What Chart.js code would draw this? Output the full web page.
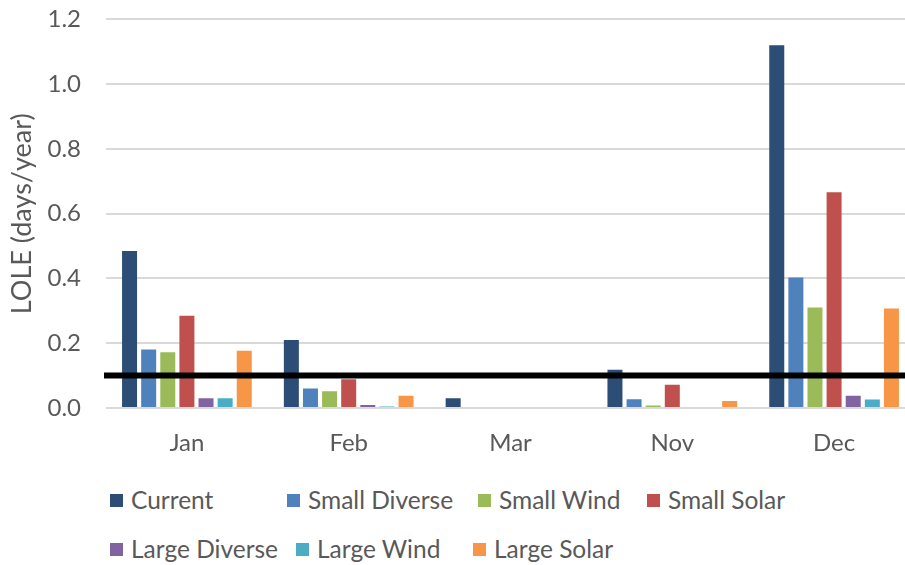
<!DOCTYPE html>
<html>
<head>
<meta charset="utf-8">
<script src="https://cdn.jsdelivr.net/npm/chart.js@4.4.0/dist/chart.umd.min.js"></script>
<style>
  html, body { margin: 0; padding: 0; background: #fff; overflow: hidden; }
  #wrap { position: relative; width: 905px; height: 565px; overflow: hidden; }
  #chartBox { position: absolute; left: 0; top: -20px; width: 915px; height: 490px; }
  .leg-item { position: absolute; display: flex; align-items: center; font-family: Lato, sans-serif; font-size: 24.5px; color: #595959; white-space: nowrap; line-height: 1; }
  .leg-box { width: 13px; height: 13px; margin-right: 8px; }
</style>
</head>
<body>
<div id="wrap">
  <div id="chartBox"><canvas id="lole"></canvas></div>
  <div id="legend"></div>
</div>
<script>
// --- DATA ---
const months = ['Jan', 'Feb', 'Mar', 'Nov', 'Dec'];
const seriesNames = ['Current', 'Small Diverse', 'Small Wind', 'Small Solar', 'Large Diverse', 'Large Wind', 'Large Solar'];
const current      = [0.485, 0.21,  0.03, 0.118, 1.12];
const smallDiverse = [0.181, 0.06,  0,    0.027, 0.403];
const smallWind    = [0.172, 0.052, 0,    0.008, 0.31];
const smallSolar   = [0.285, 0.089, 0,    0.072, 0.666];
const largeDiverse = [0.03,  0.009, 0,    0,     0.038];
const largeWind    = [0.03,  0.005, 0,    0,     0.026];
const largeSolar   = [0.177, 0.038, 0,    0.022, 0.307];
const yTicks = [0, 0.2, 0.4, 0.6, 0.8, 1.0, 1.2];
const THRESHOLD = 0.1;

// Styles
const seriesColors = ['#2C4D75', '#4F81BD', '#9BBB59', '#C0504D', '#8064A2', '#4BACC6', '#F79646'];
const legendPos = [[110, 500], [287, 500], [478, 500], [647, 500], [110, 549], [296, 549], [473, 549]];
const TEXT = '#595959';

const allSeries = [current, smallDiverse, smallWind, smallSolar, largeDiverse, largeWind, largeSolar];

// threshold line across the plot
const thresholdLine = {
    id: 'thresholdLine',
    afterDatasetsDraw(chart) {
        const { ctx, chartArea, scales } = chart;
        const y = scales.y.getPixelForValue(THRESHOLD);
        ctx.save();
        ctx.strokeStyle = '#000';
        ctx.lineWidth = 6;
        ctx.beginPath();
        ctx.moveTo(chartArea.left - 2, y);
        ctx.lineTo(chartArea.right, y);
        ctx.stroke();
        ctx.restore();
    }
};

const ctx = document.getElementById('lole').getContext('2d');
new Chart(ctx, {
    type: 'bar',
    data: {
        labels: months,
        datasets: allSeries.map((d, i) => ({
            label: seriesNames[i],
            data: d,
            backgroundColor: seriesColors[i],
            categoryPercentage: 0.827,
            barPercentage: 0.785
        }))
    },
    options: {
        responsive: true,
        maintainAspectRatio: false,
        animation: false,
        layout: { padding: { top: 0, right: 0, left: 0, bottom: 0 } },
        plugins: { legend: { display: false }, tooltip: { enabled: false } },
        scales: {
            x: {
                grid: { display: false, drawTicks: false },
                border: { display: false },
                ticks: { color: TEXT, font: { family: 'Lato', size: 24 }, padding: 21 },
                afterFit(s) { s.height = 62; }
            },
            y: {
                min: 0, max: 1.2,
                afterBuildTicks(s) { s.ticks = yTicks.map(v => ({ value: v })); },
                ticks: { color: TEXT, font: { family: 'Lato', size: 24 }, padding: 25, callback: v => Number(v).toFixed(1) },
                grid: { color: '#D9D9D9', lineWidth: 2, drawTicks: false },
                border: { display: false },
                title: { display: true, text: 'LOLE (days/year)', color: TEXT, font: { family: 'Lato', size: 27 }, padding: { top: 6, bottom: 0 } },
                afterFit(s) { s.width = 106; }
            }
        }
    },
    plugins: [thresholdLine]
});

// legend (Excel-style two rows)
const legendEl = document.getElementById('legend');
seriesNames.forEach((name, i) => {
    const item = document.createElement('div');
    item.className = 'leg-item';
    item.style.left = legendPos[i][0] + 'px';
    item.style.top = (legendPos[i][1] - 12) + 'px';
    item.style.height = '24px';
    item.innerHTML = `<span class="leg-box" style="background:${seriesColors[i]}"></span><span>${name}</span>`;
    legendEl.appendChild(item);
});
</script>
</body>
</html>
